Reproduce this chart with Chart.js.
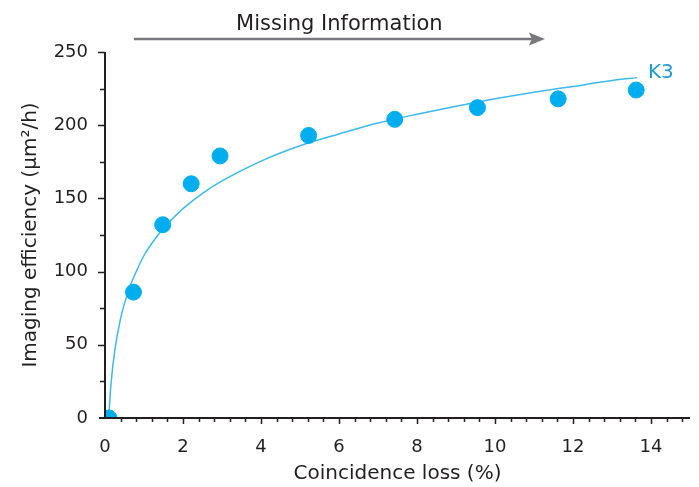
<!DOCTYPE html>
<html>
<head>
<meta charset="utf-8">
<script src="https://cdn.jsdelivr.net/npm/chart.js@4"></script>
<style>
  html, body { margin: 0; padding: 0; background: #fff; }
  #wrap { width: 699px; height: 487px; }
</style>
</head>
<body>
<div id="wrap"><canvas id="mycanvas"></canvas></div>
<script>
// measured points (K3)
var lossX = [0.1, 0.73, 1.48, 2.21, 2.95, 5.22, 7.43, 9.55, 11.62, 13.62];
var effY = [0, 86, 132, 160, 179, 193, 204, 212, 218, 224];

// fit curve
var fitX = [0.1, 0.15, 0.25, 0.4, 0.6, 0.8, 1.0, 1.3, 1.6, 2.0, 2.5, 3, 4, 5, 6, 7, 8, 9, 10, 11, 12, 13, 13.64];
var fitY = [2, 22, 46, 68, 87, 100, 111, 123, 132.5, 143, 153.5, 162, 175.5, 186, 194, 201.5, 207.5, 213, 218, 222.5, 226.5, 230.5, 232.5];

var xTickLabels = [0, 2, 4, 6, 8, 10, 12, 14];
var yTickLabels = [0, 50, 100, 150, 200, 250];

var seriesName = "K3";
var topNote = "Missing Information";
var noteRange = [0.74, 11.28];

var ink = "#231f20";
var font = "'DejaVu Sans', sans-serif";

var points = [];
for (var i in lossX) points.push({x: lossX[i], y: effY[i]});
var fit = [];
for (var j in fitX) fit.push({x: fitX[j], y: fitY[j]});

// axes, tick marks, arrow and label
var extras = {
  id: "extras",
  afterDraw: function(chart) {
    var ctx = chart.ctx;
    var xs = chart.scales.x, ys = chart.scales.y;
    var a = chart.chartArea;
    ctx.save();
    ctx.strokeStyle = ink;
    ctx.lineWidth = 2;
    ctx.beginPath();
    ctx.moveTo(a.left, a.top);
    ctx.lineTo(a.left, a.bottom + 1);
    ctx.moveTo(a.left - 6, a.bottom);
    ctx.lineTo(a.right, a.bottom);
    ctx.stroke();

    ctx.lineWidth = 1.5;
    ctx.beginPath();
    for (var v = 0.4; v < 15; v += 0.4) {
      var px = Math.round(xs.getPixelForValue(v)) + 0.5;
      var major = Math.abs(v / 2 - Math.round(v / 2)) < 0.01;
      ctx.moveTo(px, a.bottom);
      ctx.lineTo(px, a.bottom + (major ? 6 : 4));
    }
    for (var w = 25; w <= 250; w += 25) {
      var py = Math.round(ys.getPixelForValue(w)) + 0.5;
      var maj = w % 50 === 0;
      ctx.moveTo(a.left, py);
      ctx.lineTo(a.left - (maj ? 7 : 5), py);
    }
    ctx.stroke();

    // top arrow
    var x0 = xs.getPixelForValue(noteRange[0]);
    var x1 = xs.getPixelForValue(noteRange[1]);
    var ay = a.top - 13;
    ctx.strokeStyle = "#77787b";
    ctx.fillStyle = "#77787b";
    ctx.lineWidth = 2.5;
    ctx.beginPath();
    ctx.moveTo(x0, ay);
    ctx.lineTo(x1 - 12, ay);
    ctx.stroke();
    ctx.beginPath();
    ctx.moveTo(x1, ay);
    ctx.lineTo(x1 - 16, ay - 6.5);
    ctx.lineTo(x1 - 13, ay);
    ctx.lineTo(x1 - 16, ay + 6.5);
    ctx.closePath();
    ctx.fill();

    ctx.fillStyle = ink;
    ctx.font = "21px " + font;
    ctx.textAlign = "center";
    ctx.textBaseline = "alphabetic";
    ctx.fillText(topNote, (x0 + x1) / 2, 30);

    // series label at end of fit
    var last = fit[fit.length - 1];
    ctx.fillStyle = "#1d9ad6";
    ctx.font = "20px " + font;
    ctx.textAlign = "left";
    ctx.fillText(seriesName, xs.getPixelForValue(last.x) + 11, ys.getPixelForValue(last.y));
    ctx.restore();
  }
};

var ctx = document.getElementById("mycanvas");
var chart = new Chart(ctx, {
  type: "scatter",
  data: {
    datasets: [
      {
        label: seriesName,
        data: points,
        backgroundColor: "#00aeef",
        borderColor: "#00aeef",
        pointRadius: 8,
        pointHoverRadius: 8,
        order: 1
      },
      {
        label: "fit",
        type: "line",
        data: fit,
        showLine: true,
        fill: false,
        borderColor: "#3cb9ee",
        borderWidth: 1.5,
        pointRadius: 0,
        cubicInterpolationMode: "monotone",
        order: 2
      }
    ]
  },
  options: {
    responsive: true,
    maintainAspectRatio: false,
    animation: false,
    layout: { padding: { top: 52, right: 7, left: 0, bottom: 0 } },
    plugins: { legend: { display: false }, tooltip: { enabled: false } },
    scales: {
      x: {
        type: "linear",
        min: 0,
        max: 15,
        grid: { display: false },
        border: { display: false },
        afterBuildTicks: function(scale) {
          scale.ticks = xTickLabels.map(function(v) { return {value: v}; });
        },
        afterFit: function(scale) { scale.height = 69; },
        ticks: {
          autoSkip: false,
          maxRotation: 0,
          padding: 11,
          color: ink,
          font: { family: font, size: 18 }
        },
        title: {
          display: true,
          text: "Coincidence loss (%)",
          color: ink,
          font: { family: font, size: 20 },
          padding: { top: 1, bottom: 1 }
        }
      },
      y: {
        type: "linear",
        min: 0,
        max: 250,
        grid: { display: false },
        border: { display: false },
        afterBuildTicks: function(scale) {
          scale.ticks = yTickLabels.map(function(v) { return {value: v}; });
        },
        afterFit: function(scale) { scale.width = 105; },
        ticks: {
          padding: 9,
          color: ink,
          font: { family: font, size: 18 }
        },
        title: {
          display: true,
          text: "Imaging efficiency (\u03bcm\u00b2/h)",
          color: ink,
          font: { family: font, size: 20 },
          padding: { top: 19, bottom: 0 }
        }
      }
    }
  },
  plugins: [extras]
});
</script>
</body>
</html>
